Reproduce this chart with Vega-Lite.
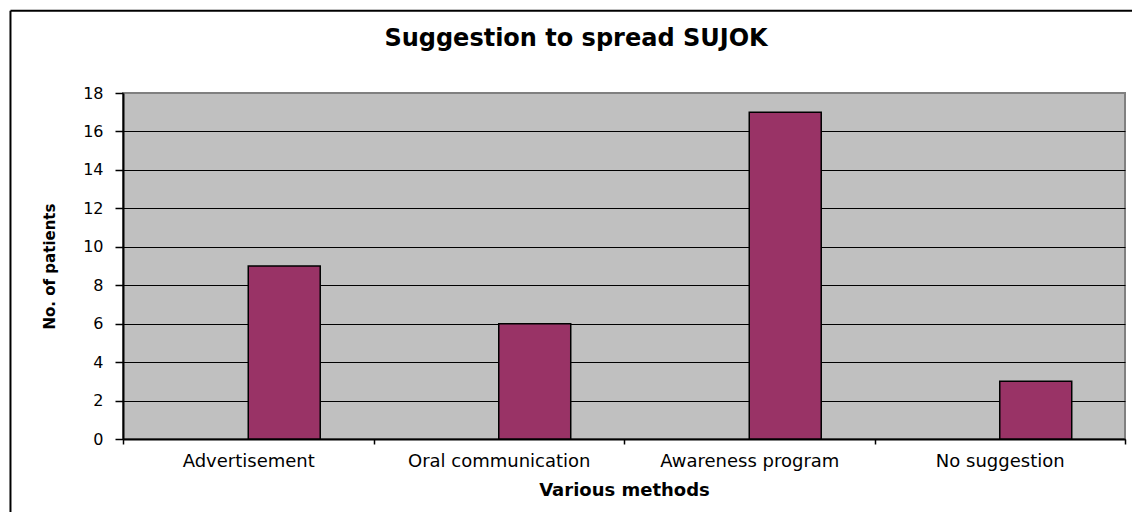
{
  "$schema": "https://vega.github.io/schema/vega-lite/v6.json",
  "width": 1002,
  "height": 346,
  "autosize": {"type": "none"},
  "padding": {"left": 123, "top": 93, "right": 7, "bottom": 73},
  "background": "white",
  "title": {
    "text": "Suggestion to spread SUJOK",
    "font": "DejaVu Sans",
    "fontSize": 24,
    "fontWeight": "bold",
    "color": "black",
    "anchor": "middle",
    "baseline": "alphabetic",
    "dx": -48,
    "offset": -60
  },
  "config": {
    "view": {"fill": "#C0C0C0", "stroke": "#808080", "strokeWidth": 2}
  },
  "data": {
    "values": [
      {"method": "Advertisement", "series": "s2", "patients": 9},
      {"method": "Oral communication", "series": "s2", "patients": 6},
      {"method": "Awareness program", "series": "s2", "patients": 17},
      {"method": "No suggestion", "series": "s2", "patients": 3}
    ]
  },
  "layer": [
    {
      "mark": {"type": "bar", "fill": "#993366", "stroke": "black", "strokeWidth": 1.5},
      "encoding": {
        "x": {
          "field": "method",
          "type": "nominal",
          "sort": null,
          "scale": {"paddingInner": 0, "paddingOuter": 0},
          "axis": {
            "title": "Various methods",
            "titleFont": "DejaVu Sans",
            "titleFontSize": 18,
            "titleFontWeight": "bold",
            "titleColor": "black",
            "titlePadding": 11,
            "labelFont": "DejaVu Sans",
            "labelFontSize": 18,
            "labelColor": "black",
            "labelAngle": 0,
            "labelPadding": 8,
            "labelLimit": 400,
            "tickBand": "extent",
            "tickSize": 5,
            "tickColor": "black",
            "tickWidth": 1.5,
            "domainColor": "black",
            "domainWidth": 2,
            "grid": false
          }
        },
        "xOffset": {
          "field": "series",
          "type": "nominal",
          "scale": {"domain": ["s1", "s2"], "paddingInner": 0, "paddingOuter": 0.74}
        },
        "y": {
          "field": "patients",
          "type": "quantitative",
          "scale": {"domain": [0, 18], "nice": false},
          "axis": {
            "values": [0, 2, 4, 6, 8, 10, 12, 14, 16, 18],
            "labelOverlap": false,
            "title": "No. of patients",
            "titleFont": "DejaVu Sans",
            "titleFontSize": 15,
            "titleFontWeight": "bold",
            "titleColor": "black",
            "titlePadding": 25,
            "labelFont": "DejaVu Sans",
            "labelFontSize": 16,
            "labelColor": "black",
            "labelPadding": 12,
            "tickSize": 8,
            "tickColor": "black",
            "tickWidth": 1.5,
            "domainColor": "black",
            "domainWidth": 2,
            "grid": true,
            "gridColor": {"condition": {"test": "datum.value === 18", "value": "transparent"}, "value": "black"},
            "gridWidth": 1
          }
        }
      }
    },
    {
      "data": {"values": [{"frame": "left"}]},
      "mark": {"type": "rule", "stroke": "black", "strokeWidth": 2, "clip": false},
      "encoding": {
        "x": {"datum": -0.1123, "type": "quantitative", "scale": {"domain": [0, 1]}, "axis": null},
        "y": {"datum": 22.28, "type": "quantitative", "scale": {"domain": [0, 18], "nice": false}, "axis": null},
        "y2": {"datum": -5}
      }
    },
    {
      "data": {"values": [{"frame": "top"}]},
      "mark": {"type": "rule", "stroke": "black", "strokeWidth": 2, "clip": false},
      "encoding": {
        "x": {"datum": -0.1123, "type": "quantitative", "scale": {"domain": [0, 1]}, "axis": null},
        "x2": {"datum": 1.3},
        "y": {"datum": 22.28, "type": "quantitative", "scale": {"domain": [0, 18], "nice": false}, "axis": null}
      }
    }
  ],
  "resolve": {
    "scale": {"x": "independent", "y": "independent"},
    "axis": {"x": "independent", "y": "independent"}
  }
}
